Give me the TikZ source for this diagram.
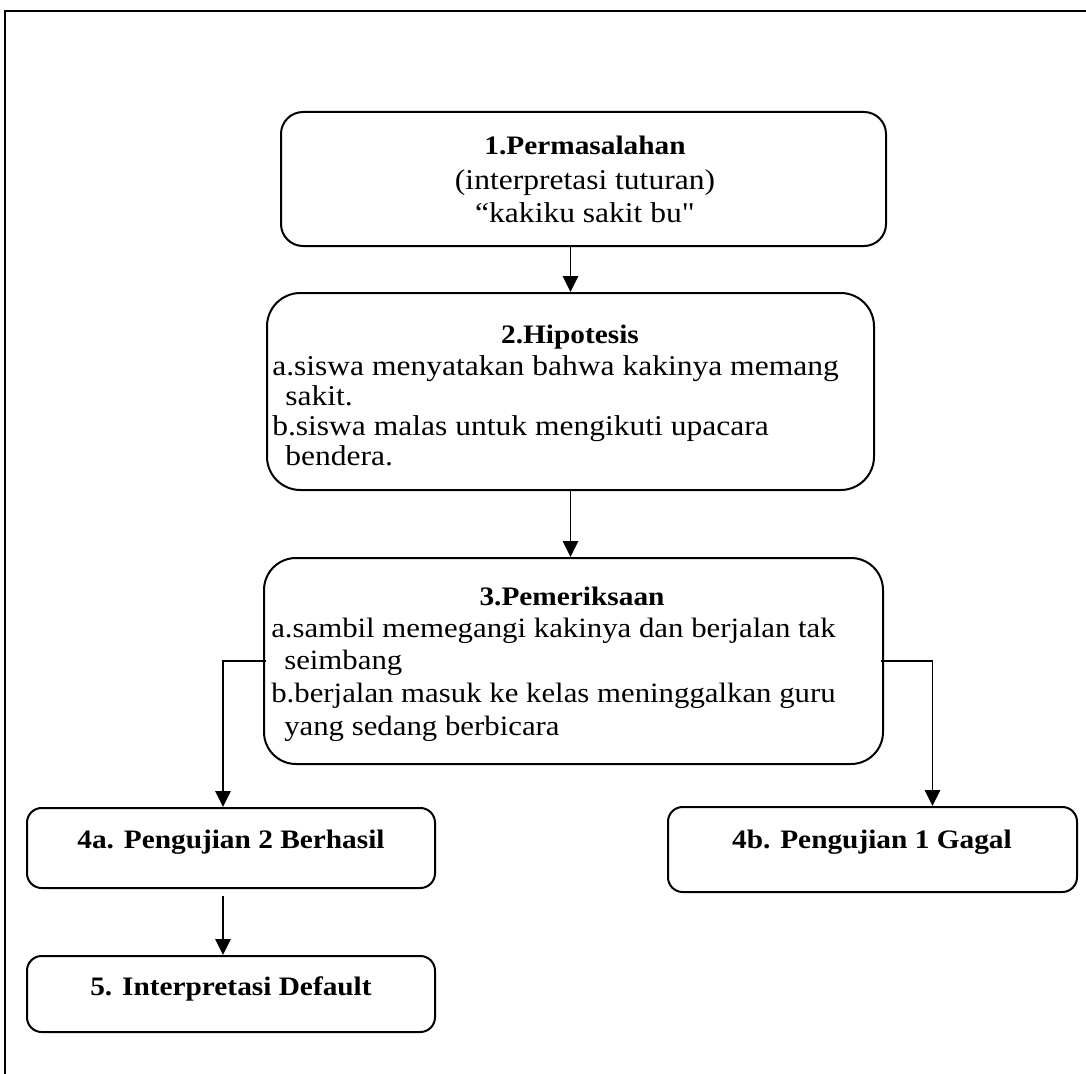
\documentclass[tikz,border=0pt]{standalone}
\usepackage{fontspec}
\newfontfamily\plainserif{Liberation Serif}[FakeStretch=1.1]
\usetikzlibrary{arrows.meta,fit}
\def\u{0.75pt}
\newcommand{\boldtitle}[1]{{\fontsize{20pt}{25pt}\selectfont\bfseries #1}}
\tikzset{
  box/.style={draw, line width=1.5pt, inner sep=0pt},
  arr/.style={line width=1.2pt, -{Triangle[width=11.5pt,length=12pt]}},
  txt/.style={inner sep=0pt, anchor=base},
  ltxt/.style={inner sep=0pt, anchor=base west},
  smaller/.style={font=\plainserif\fontsize{21pt}{25pt}\selectfont},
}
\begin{document}
\begin{tikzpicture}[x=0.75pt,y=-0.75pt,font=\plainserif\fontsize{21.5pt}{25pt}\selectfont]
\useasboundingbox (0,0) rectangle (1086,1074);
% frame
\draw[line width=1.4pt] (5,1074) -- (5,11) -- (1086,11);

% boxes
\node[box, rounded corners=16.5pt, fit={(281,112) (886,246)}] (b1) {};
\node[box, rounded corners=25pt, fit={(267,293) (874,490)}] (b2) {};
\node[box, rounded corners=24pt, fit={(264,558) (883,764)}] (b3) {};
\node[box, rounded corners=11pt, fit={(27,808) (435,888)}] (b4a) {};
\node[box, rounded corners=11pt, fit={(668,807) (1077,892)}] (b4b) {};
\node[box, rounded corners=11pt, fit={(27,956) (435,1032)}] (b5) {};

% texts box 1
\node[txt] (t1a) at (585,155) {\boldtitle{1.Permasalahan}};
\node[txt] (t1b) at (585,189) {(interpretasi tuturan)};
\node[txt] (t1c) at (585,222) {“kakiku sakit bu"};

% texts box 2
\node[txt] (t2a) at (570,343) {\boldtitle{2.Hipotesis}};
\node[ltxt] (t2b) at (272,375) {a.siswa menyatakan bahwa kakinya memang};
\node[ltxt] (t2c) at (285,405) {sakit.};
\node[ltxt] (t2d) at (272,435) {b.siswa malas untuk mengikuti upacara};
\node[ltxt] (t2e) at (285,465) {bendera.};

% texts box 3
\node[txt] (t3a) at (572,605) {\boldtitle{3.Pemeriksaan}};
\node[ltxt, smaller] (t3b) at (271,637) {a.sambil memegangi kakinya dan berjalan tak};
\node[ltxt, smaller] (t3c) at (284,669) {seimbang};
\node[ltxt, smaller] (t3d) at (271,702) {b.berjalan masuk ke kelas meninggalkan guru};
\node[ltxt, smaller] (t3e) at (284,735) {yang sedang berbicara};

% texts lower boxes
\node[txt] (t4a) at (231,848) {\boldtitle{4a. Pengujian 2 Berhasil}};
\node[txt] (t4b) at (872,848) {\boldtitle{4b. Pengujian 1 Gagal}};
\node[txt] (t5) at (231,995) {\boldtitle{5. Interpretasi Default}};

% connectors
\draw[arr] (b1.south -| b2.north) -- (b2.north);
\draw[arr] (b2.south) -- (b2.south |- b3.north);
\coordinate (l3) at ([xshift=3*\u]b3.west);
\coordinate (r3) at ([xshift=-3*\u]b3.east);
\draw[arr] (l3) -| ([xshift=-8*\u]b4a.north);
\draw[arr] (r3) -| ([xshift=60*\u]b4b.north);
\draw[arr] ([xshift=-8*\u,yshift=-7*\u]b4a.south) -- ([xshift=-8*\u]b5.north);
\end{tikzpicture}
\end{document}
